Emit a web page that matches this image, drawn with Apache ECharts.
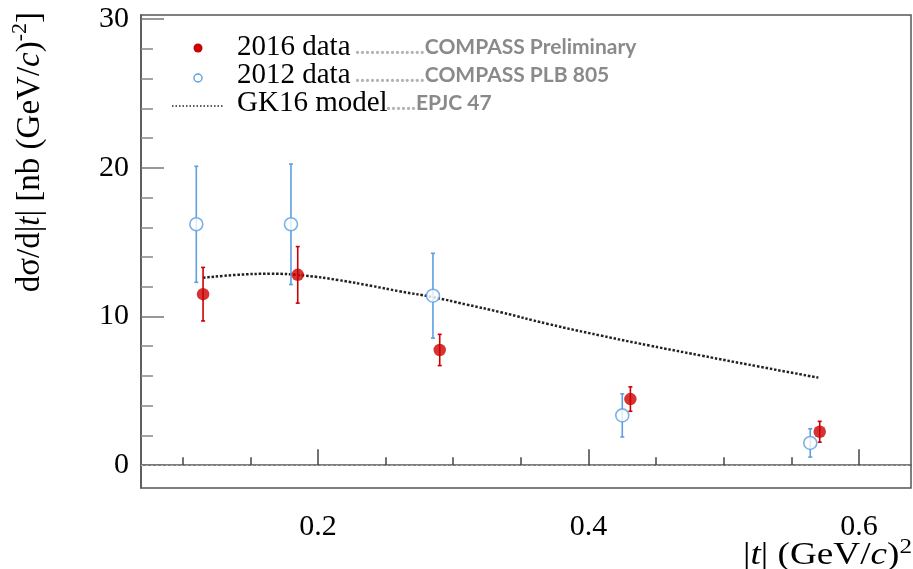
<!DOCTYPE html>
<html>
<head>
<meta charset="utf-8">
<script src="https://cdn.jsdelivr.net/npm/echarts@6/dist/echarts.min.js"></script>
<style>
html, body { margin: 0; padding: 0; background: #fff; }
#main { width: 913px; height: 569px; }
</style>
</head>
<body>
<div id="main"></div>
<script>
// 2016 data (COMPASS preliminary)
var t2016 = [0.115, 0.185, 0.290, 0.431, 0.571];
var v2016 = [11.5, 12.8, 7.75, 4.45, 2.25];
var e2016 = [1.8, 1.9, 1.05, 0.82, 0.7];

// 2012 data (COMPASS PLB 805)
var t2012 = [0.110, 0.180, 0.285, 0.425, 0.564];
var v2012 = [16.2, 16.2, 11.4, 3.35, 1.5];
var e2012 = [3.9, 4.05, 2.85, 1.45, 0.95];

// GK16 model curve
var tModel = [0.115, 0.14, 0.165, 0.19, 0.215, 0.24, 0.26, 0.285, 0.31, 0.335, 0.37, 0.409, 0.445, 0.483, 0.525, 0.570];
var vModel = [12.6, 12.8, 12.87, 12.75, 12.45, 12.05, 11.7, 11.3, 10.8, 10.29, 9.5, 8.72, 8.05, 7.38, 6.65, 5.89];

var xMajor = [0.2, 0.4, 0.6];
var xMinor = [0.1, 0.15, 0.25, 0.3, 0.35, 0.45, 0.5, 0.55];
var yMajor = [0, 10, 20, 30];
var yMinor = [2, 4, 6, 8, 12, 14, 16, 18, 22, 24, 26, 28];

var red = '#cc0000';
var blue = '#5d9fe0';
var serif = '"Liberation Serif", "DejaVu Serif", serif';
var sans = 'Lato, "Open Sans", sans-serif';

function pairs(xs, ys) {
	return xs.map(function (x, i) { return [x, ys[i]]; });
}
function errData(xs, ys, es) {
	return xs.map(function (x, i) { return [x, ys[i] - es[i], ys[i] + es[i]]; });
}
function errBars(color) {
	return function (params, api) {
		var lo = api.coord([api.value(0), api.value(1)]);
		var hi = api.coord([api.value(0), api.value(2)]);
		var st = { stroke: color, lineWidth: 1.6 };
		return {
			type: 'group',
			children: [
				{ type: 'line', shape: { x1: lo[0], y1: lo[1], x2: hi[0], y2: hi[1] }, style: st },
				{ type: 'line', shape: { x1: lo[0] - 2, y1: lo[1], x2: lo[0] + 2, y2: lo[1] }, style: st },
				{ type: 'line', shape: { x1: hi[0] - 2, y1: hi[1], x2: hi[0] + 2, y2: hi[1] }, style: st }
			]
		};
	};
}

// legend row text: serif label + grey reference
function greyRef(x, y, dots, ref) {
	return { type: 'text', x: x, y: y, style: { text: '{d|' + dots + '}{c|' + ref + '}', verticalAlign: 'middle',
		rich: { d: { font: 'bold 21px ' + sans, fill: '#b4b4b4' }, c: { font: 'bold 21px ' + sans, fill: '#8a8a8a' } } } };
}
var titleRich = {
	a: { font: '33px ' + serif, fill: '#000', lineHeight: 38, verticalAlign: 'bottom' },
	i: { font: 'italic 33px ' + serif, fill: '#000', lineHeight: 38, verticalAlign: 'bottom' },
	s: { font: '22px ' + serif, fill: '#000', lineHeight: 38, verticalAlign: 'top' }
};
var xTitleRich = {
	a: { font: '31px ' + serif, fill: '#000', lineHeight: 34, verticalAlign: 'bottom' },
	i: { font: 'italic 31px ' + serif, fill: '#000', lineHeight: 34, verticalAlign: 'bottom' },
	s: { font: '21px ' + serif, fill: '#000', lineHeight: 34, verticalAlign: 'top' }
};

var axisColor = '#555';
var xMin = 0.0691, xMax = 0.6385, yMin = -1.53, yMax = 30.27;

var chart = echarts.init(document.getElementById('main'));
chart.setOption({
	animation: false,
	grid: { left: 141, right: 2, top: 15, bottom: 81, show: true, borderColor: axisColor, borderWidth: 1.5 },
	xAxis: [{
		type: 'value', min: xMin, max: xMax, position: 'bottom',
		axisLine: { lineStyle: { color: axisColor, width: 1.5 } },
		axisTick: { inside: true, length: 16, customValues: xMajor, lineStyle: { color: '#444', width: 1.5 } },
		axisLabel: { customValues: xMajor, margin: 24, color: '#000', fontFamily: serif, fontSize: 30,
			formatter: function (v) { return v.toFixed(1); } },
		splitLine: { show: false }
	}, {
		type: 'value', min: xMin, max: xMax, position: 'bottom', offset: 0,
		axisLine: { show: false },
		axisTick: { inside: true, length: 8, customValues: xMinor, lineStyle: { color: '#444', width: 1.5 } },
		axisLabel: { show: false },
		splitLine: { show: false }
	}],
	yAxis: [{
		type: 'value', min: yMin, max: yMax, position: 'left',
		axisLine: { show: true, lineStyle: { color: axisColor, width: 1.5 } },
		axisTick: { show: true, inside: true, length: 23, customValues: yMajor, lineStyle: { color: '#777', width: 1.5 } },
		axisLabel: { customValues: yMajor, margin: 12, color: '#000', fontFamily: serif, fontSize: 30 },
		splitLine: { show: false }
	}, {
		type: 'value', min: yMin, max: yMax, position: 'left', offset: 0,
		axisLine: { show: false },
		axisTick: { show: true, inside: true, length: 12, customValues: yMinor, lineStyle: { color: '#888', width: 1.5 } },
		axisLabel: { show: false },
		splitLine: { show: false }
	}],
	series: [{
		name: 'GK16 model', type: 'line', smooth: true, showSymbol: false,
		data: pairs(tModel, vModel),
		lineStyle: { color: '#222', width: 2.5, type: [2.5, 1.8] },
		markLine: {
			silent: true, symbol: 'none', label: { show: false },
			lineStyle: { color: '#b0b0b0', width: 1.2, type: [2, 3] },
			data: [{ yAxis: 0 }]
		},
		z: 2
	}, {
		type: 'custom', renderItem: errBars(blue), data: errData(t2012, v2012, e2012), z: 3
	}, {
		type: 'custom', renderItem: errBars(red), data: errData(t2016, v2016, e2016), z: 3
	}, {
		name: '2012 data', type: 'scatter', symbol: 'circle', symbolSize: 13,
		data: pairs(t2012, v2012),
		itemStyle: { color: '#fff', borderColor: blue, borderWidth: 1.6 }, z: 4
	}, {
		name: '2016 data', type: 'scatter', symbol: 'circle', symbolSize: 12.5,
		data: pairs(t2016, v2016),
		itemStyle: { color: red }, z: 5
	}],
	graphic: [
		// legend
		{ type: 'circle', shape: { cx: 198, cy: 48, r: 4.5 }, style: { fill: red } },
		{ type: 'circle', shape: { cx: 198, cy: 78, r: 4 }, style: { fill: '#fff', stroke: blue, lineWidth: 1.4 } },
		{ type: 'line', shape: { x1: 172, y1: 106, x2: 223, y2: 106 }, style: { stroke: '#222', lineWidth: 1.5, lineDash: [1.5, 2] } },
		{ type: 'text', x: 237, y: 47, style: { text: '2016 data', font: '29px ' + serif, fill: '#000', verticalAlign: 'middle' } },
		{ type: 'text', x: 237, y: 75, style: { text: '2012 data', font: '29px ' + serif, fill: '#000', verticalAlign: 'middle' } },
		{ type: 'text', x: 237, y: 103, style: { text: 'GK16 model', font: '29px ' + serif, fill: '#000', verticalAlign: 'middle' } },
		greyRef(355, 47, '..............', 'COMPASS Preliminary'),
		greyRef(355, 75, '..............', 'COMPASS PLB 805'),
		greyRef(386, 103, '......', 'EPJC 47'),
		// axis titles
		{ type: 'text', x: 28, y: 12, rotation: Math.PI / 2, style: {
			text: '{a|dσ/d|}{i|t}{a|| [nb (GeV/}{i|c}{a|)}{s|-2}{a|]}', align: 'right', verticalAlign: 'middle',
			rich: titleRich } },
		{ type: 'text', x: 912, y: 571, scaleX: 1.2, style: {
			text: '{a||}{i|t}{a|| (GeV/}{i|c}{a|)}{s|2}', align: 'right', verticalAlign: 'bottom',
			rich: xTitleRich } }
	]
});
</script>
</body>
</html>
